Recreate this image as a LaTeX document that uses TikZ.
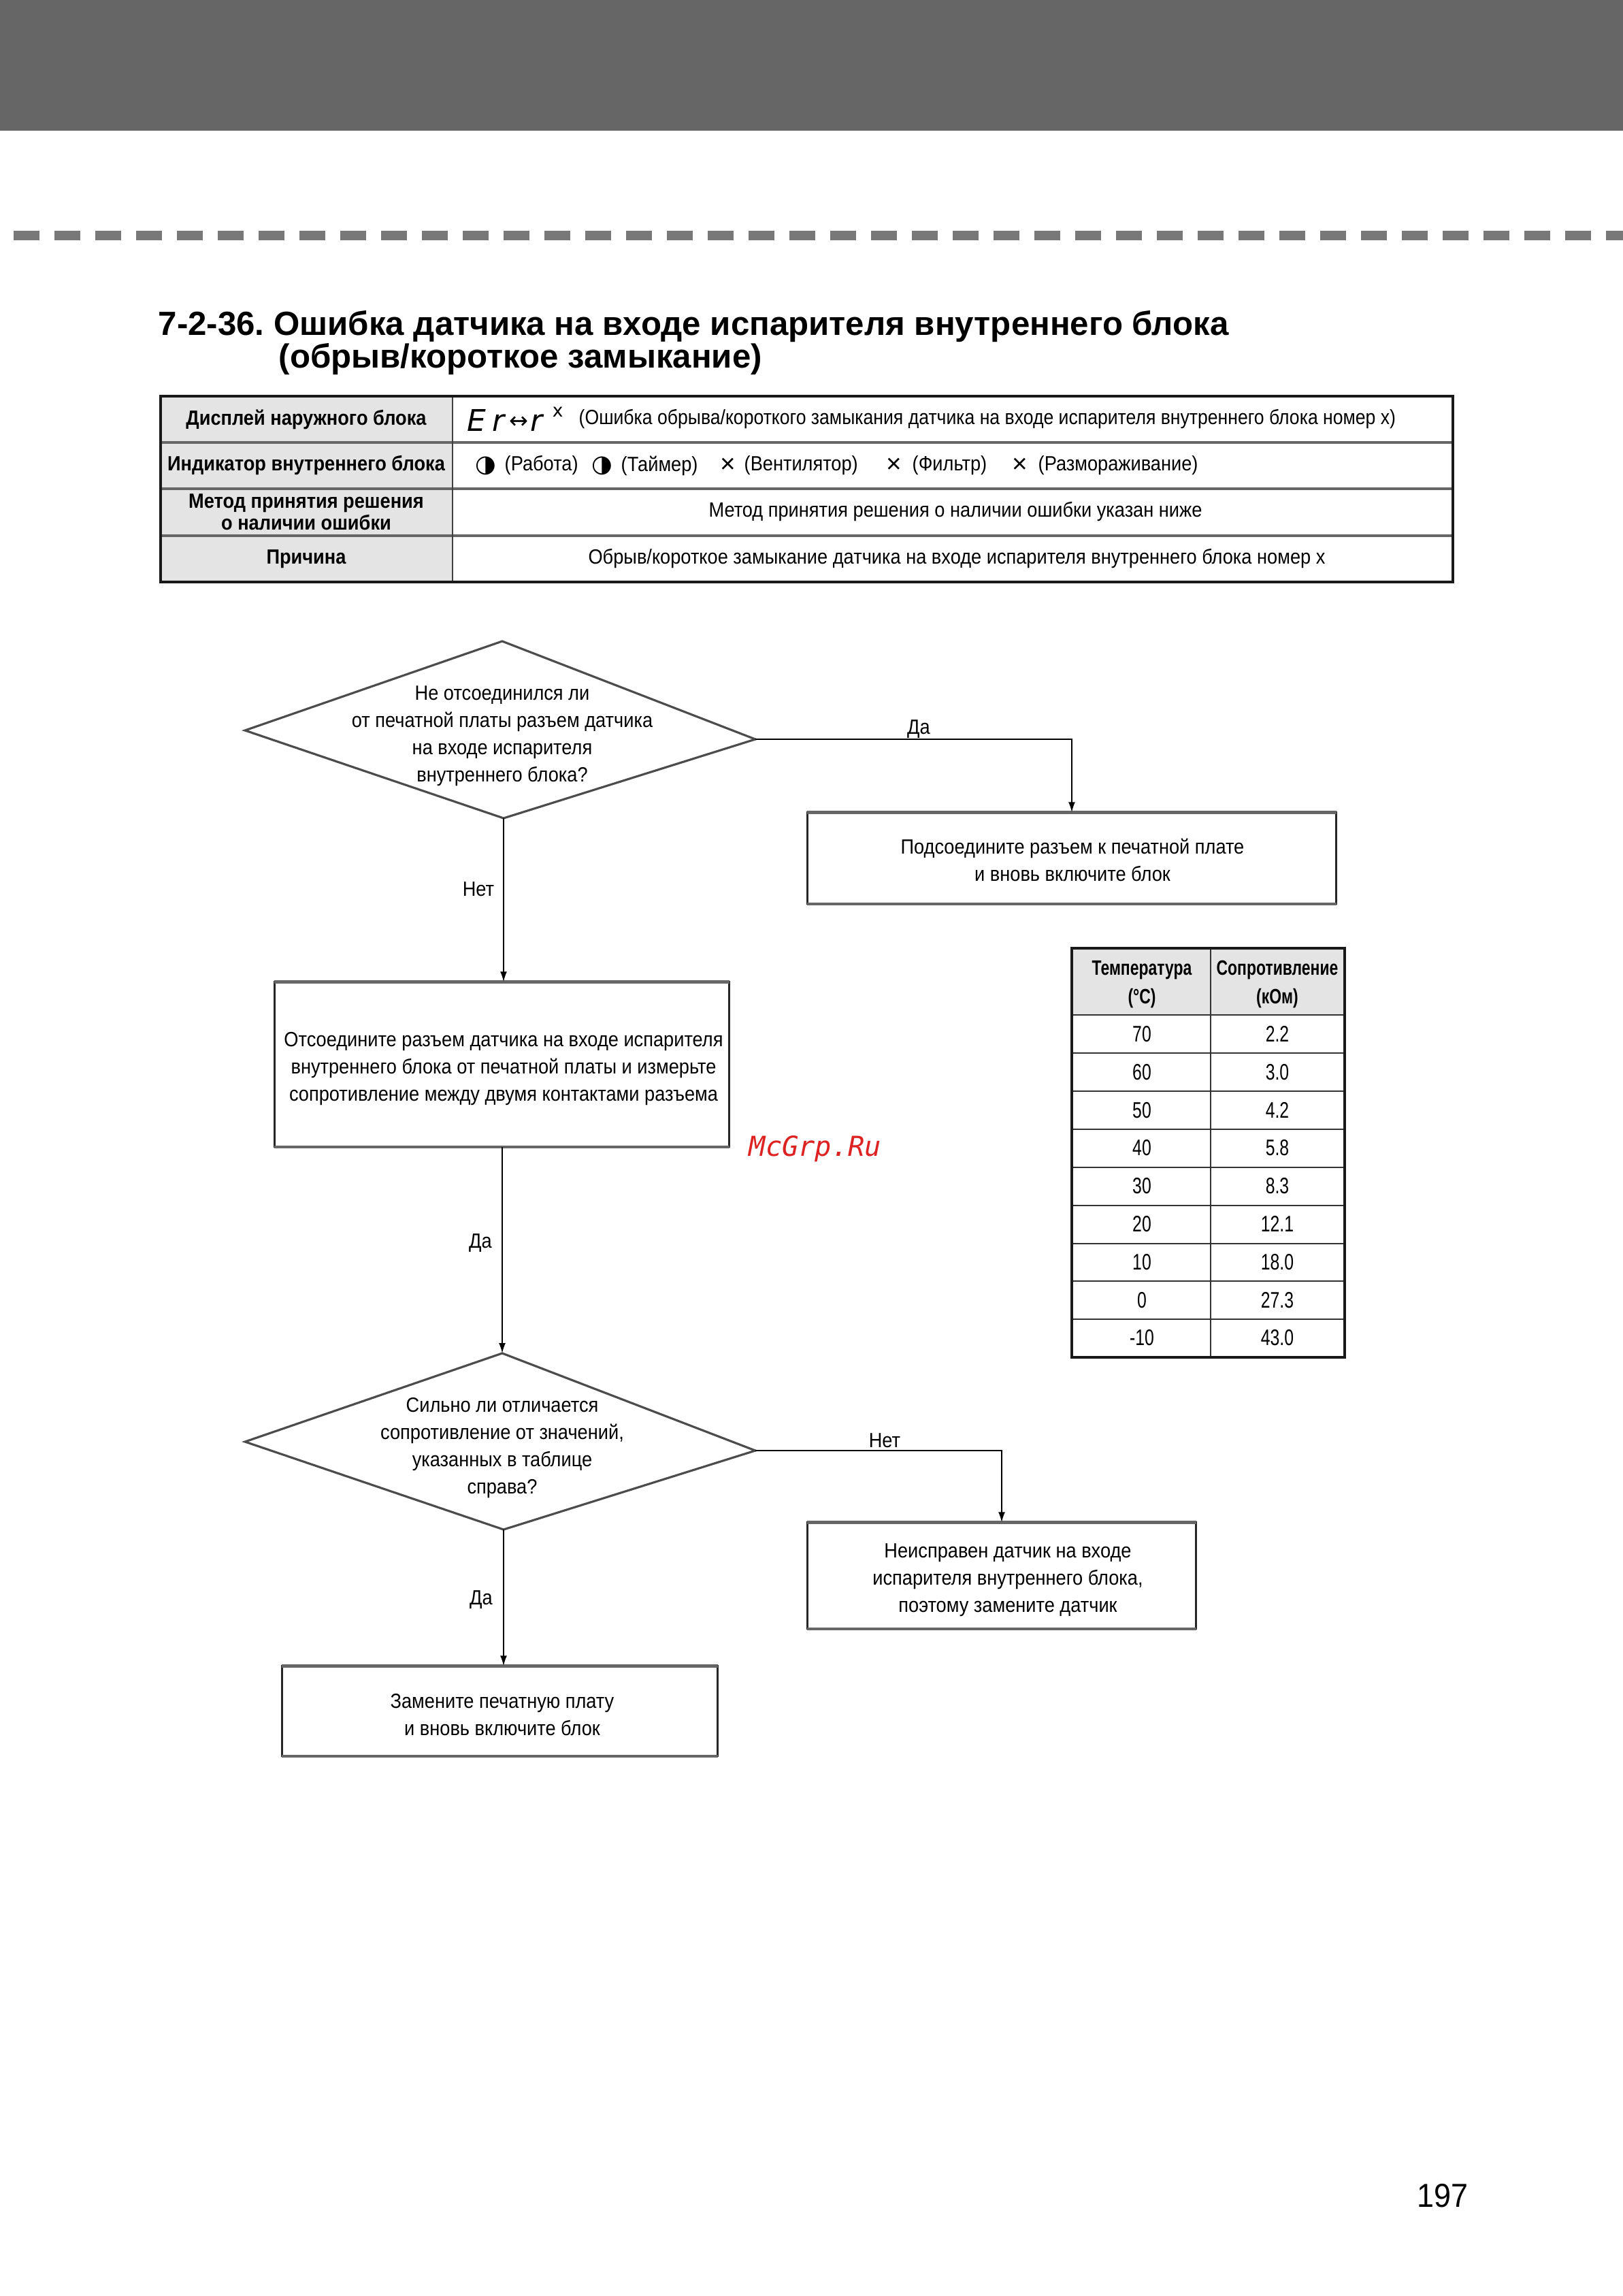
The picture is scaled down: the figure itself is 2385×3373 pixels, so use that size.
\documentclass[tikz,border=0pt]{standalone}
\usepackage{fontspec}
\setmainfont{Liberation Sans}
\newfontfamily\cond[FakeStretch=0.9]{Liberation Sans}
\newfontfamily\rcond[FakeStretch=0.88]{Liberation Sans}
\newfontfamily\tcond[FakeStretch=0.75]{Liberation Sans}
\newfontfamily\titlef{Liberation Sans}
\newfontfamily\pagef[FakeStretch=0.92]{Liberation Sans}
\newfontfamily\dv{DejaVu Sans}
\newfontfamily\dvm{DejaVu Sans Mono}
\usetikzlibrary{arrows.meta}
\definecolor{band}{HTML}{666666}
\definecolor{dashc}{HTML}{787878}
\definecolor{cellgray}{HTML}{E4E4E4}
\definecolor{wmred}{HTML}{DD2222}
\newcommand\myframe[1]{%
  \draw[frameside] (#1.north west) rectangle (#1.south east);
  \draw[frametb] (#1.north west) -- (#1.north east);
  \draw[frametb] (#1.south west) -- (#1.south east);}
\begin{document}
\frenchspacing
\begin{tikzpicture}[x=0.1mm,y=-0.1mm,
  txt/.style={font=\cond\fontsize{8.6}{11.4}\selectfont, align=center, inner sep=0pt},
  lbl/.style={font=\cond\bfseries\fontsize{8.6}{11.4}\selectfont, align=center, inner sep=0pt},
  th/.style={font=\tcond\bfseries\fontsize{8.7}{12}\selectfont, align=center, inner sep=0pt},
  tv/.style={font=\tcond\fontsize{9.4}{11}\selectfont, inner sep=0pt},
  boxn/.style={inner sep=0pt, minimum width=#1},
  frameside/.style={draw=black!85, line width=0.75pt},
  frametb/.style={draw=black!60, line width=1.25pt},
  dia/.style={draw=black!70, line width=0.9pt, line join=miter},
  conn/.style={draw=black, line width=0.55pt},
  arr/.style={conn, -{Latex[length=1.5mm,width=1.0mm]}},
  dashline/.style={draw=dashc, line width=4.2pt, dash pattern=on 3.8mm off 2.2mm},
  outerline/.style={draw=black!90, line width=1.1pt},
  rowline/.style={draw=black!60, line width=1.1pt},
  colline/.style={draw=black!75, line width=0.6pt},
  tline/.style={draw=black!80, line width=0.75pt}
]
\useasboundingbox (0,0) rectangle (2385,3373);
% header band and dashed rule
\fill[band] (0,0) rectangle (2385,192);
\draw[dashline] (20,346) -- (2385,346);

% title
\node[anchor=base west, inner sep=0pt, font=\titlef\bfseries\fontsize{14}{17}\selectfont] (t1) at (232,492) {7-2-36. Ошибка датчика на входе испарителя внутреннего блока};
\node[anchor=base west, inner sep=0pt, font=\titlef\bfseries\fontsize{14}{17}\selectfont] (t2) at (409,540) {(обрыв/короткое замыкание)};

% info table
\fill[cellgray] (236,582) rectangle (665,855);
\foreach \yy in {650,718,787} \draw[rowline] (236,\yy) -- (2135,\yy);
\draw[colline] (665,582) -- (665,855);
\draw[outerline] (236,582) rectangle (2135,855);
\node[lbl] (r1) at (450,616) {Дисплей наружного блока};
\node[lbl] (r2) at (450,684) {Индикатор внутреннего блока};
\node[lbl, font=\cond\bfseries\fontsize{8.6}{7.6}\selectfont] (r3) at (450,752) {Метод принятия решения\\о наличии ошибки};
\node[lbl] (r4) at (450,821) {Причина};

\node[anchor=west, inner sep=0pt] (er) at (686,616) {{\dv\itshape\fontsize{12.5}{12}\selectfont E\kern2.5pt r\kern2pt\raisebox{0.1em}{\upshape\fontsize{9.5}{9.5}\selectfont ↔}\kern1pt r}\kern4pt\raisebox{0.6em}{\dv\fontsize{7.5}{7.5}\selectfont x}};
\node[txt, font=\rcond\fontsize{8.6}{11.4}\selectfont, anchor=west] (v1) at (850,616) {(Ошибка обрыва/короткого замыкания датчика на входе испарителя внутреннего блока номер x)};

\node[inner sep=0pt, font=\dv\fontsize{10}{10}\selectfont] (s1) at (714,684) {◑};
\node[txt, anchor=west] (v2a) at (741,684) {(Работа)};
\node[inner sep=0pt, font=\dv\fontsize{10}{10}\selectfont] (s2) at (885,684) {◑};
\node[txt, anchor=west] (v2b) at (912,684) {(Таймер)};
\node[inner sep=0pt, font=\fontsize{11}{11}\selectfont] (s3) at (1070,684) {×};
\node[txt, anchor=west] (v2c) at (1093,684) {(Вентилятор)};
\node[inner sep=0pt, font=\fontsize{11}{11}\selectfont] (s4) at (1314,684) {×};
\node[txt, anchor=west] (v2d) at (1340,684) {(Фильтр)};
\node[inner sep=0pt, font=\fontsize{11}{11}\selectfont] (s5) at (1499,684) {×};
\node[txt, anchor=west] (v2e) at (1525,684) {(Размораживание)};

\node[txt] (v3) at (1404,752) {Метод принятия решения о наличии ошибки указан ниже};
\node[txt] (v4) at (1406,821) {Обрыв/короткое замыкание датчика на входе испарителя внутреннего блока номер x};

% flowchart: diamond 1
\coordinate (d1t) at (738,942);
\coordinate (d1l) at (360,1073);
\coordinate (d1r) at (1110,1086);
\coordinate (d1b) at (740,1202);
\draw[dia] (d1t) -- (d1r) -- (d1b) -- (d1l) -- cycle;
\node[txt] (d1) at (738,1081) {Не отсоединился ли\\от печатной платы разъем датчика\\на входе испарителя\\внутреннего блока?};

\node[boxn=77.6mm, minimum height=13.3mm] (b1) at (1575,1260.5) {};
\myframe{b1}
\node[txt] (b1t) at (1576,1263) {Подсоедините разъем к печатной плате\\и вновь включите блок};
\node[boxn=66.7mm, minimum height=24.1mm] (b2) at (737.5,1563.5) {};
\myframe{b2}
\node[txt] (b2t) at (740,1570) {Отсоедините разъем датчика на входе испарителя\\внутреннего блока от печатной платы и измерьте\\сопротивление между двумя контактами разъема};

% diamond 2
\coordinate (d2t) at (738,1988);
\coordinate (d2l) at (360,2118);
\coordinate (d2r) at (1110,2131);
\coordinate (d2b) at (740,2247);
\draw[dia] (d2t) -- (d2r) -- (d2b) -- (d2l) -- cycle;
\node[txt] (d2) at (738,2127) {Сильно ли отличается\\сопротивление от значений,\\указанных в таблице\\справа?};

\node[boxn=57mm, minimum height=15.5mm] (b3) at (1472,2314.5) {};
\myframe{b3}
\node[txt] (b3t) at (1481,2321) {Неисправен датчик на входе\\испарителя внутреннего блока,\\поэтому замените датчик};
\node[boxn=63.9mm, minimum height=13.1mm] (b4) at (734.5,2513.5) {};
\myframe{b4}
\node[txt] (b4t) at (738,2519) {Замените печатную плату\\и вновь включите блок};

% connectors
\draw[arr] (d1r) -| (b1.north);
\draw[arr] (d1b) -- (d1b |- b2.north);
\draw[arr] (d2t |- b2.south) -- (d2t);
\draw[arr] (d2r) -| (b3.north);
\draw[arr] (d2b) -- (d2b |- b4.north);

\node[txt] (l1) at (1350,1071) {Да};
\node[txt] (l2) at (703,1306) {Нет};
\node[txt] (l3) at (706,1826) {Да};
\node[txt] (l4) at (1300,2116) {Нет};
\node[txt] (l5) at (707,2350) {Да};

% resistance table
\fill[cellgray] (1575,1393) rectangle (1976,1491);
\foreach \yy in {1491,1547,1603,1659,1715,1771,1827,1882,1938} \draw[tline] (1575,\yy) -- (1976,\yy);
\draw[tline] (1779,1393) -- (1779,1994);
\draw[outerline] (1575,1393) rectangle (1976,1994);
\node[th] (h1) at (1678,1446) {Температура\\(°C)};
\node[th] (h2) at (1877,1446) {Сопротивление\\(кОм)};
\foreach \t/\r [count=\i] in {70/2.2,60/3.0,50/4.2,40/5.8,30/8.3,20/12.1,10/18.0,0/27.3,-10/43.0} {
  \node[tv] (ta\i) at (1678,1519+55.8*\i-55.8) {\t};
  \node[tv] (tb\i) at (1877,1519+55.8*\i-55.8) {\r};
}

% watermark and page number
\node[inner sep=0pt, text=wmred, font=\dvm\itshape\fontsize{11.5}{12}\selectfont] (wm) at (1198,1688) {McGrp.Ru};
\node[inner sep=0pt, font=\pagef\fontsize{13.9}{14}\selectfont] (pg) at (2120,3226) {197};
\end{tikzpicture}
\end{document}
